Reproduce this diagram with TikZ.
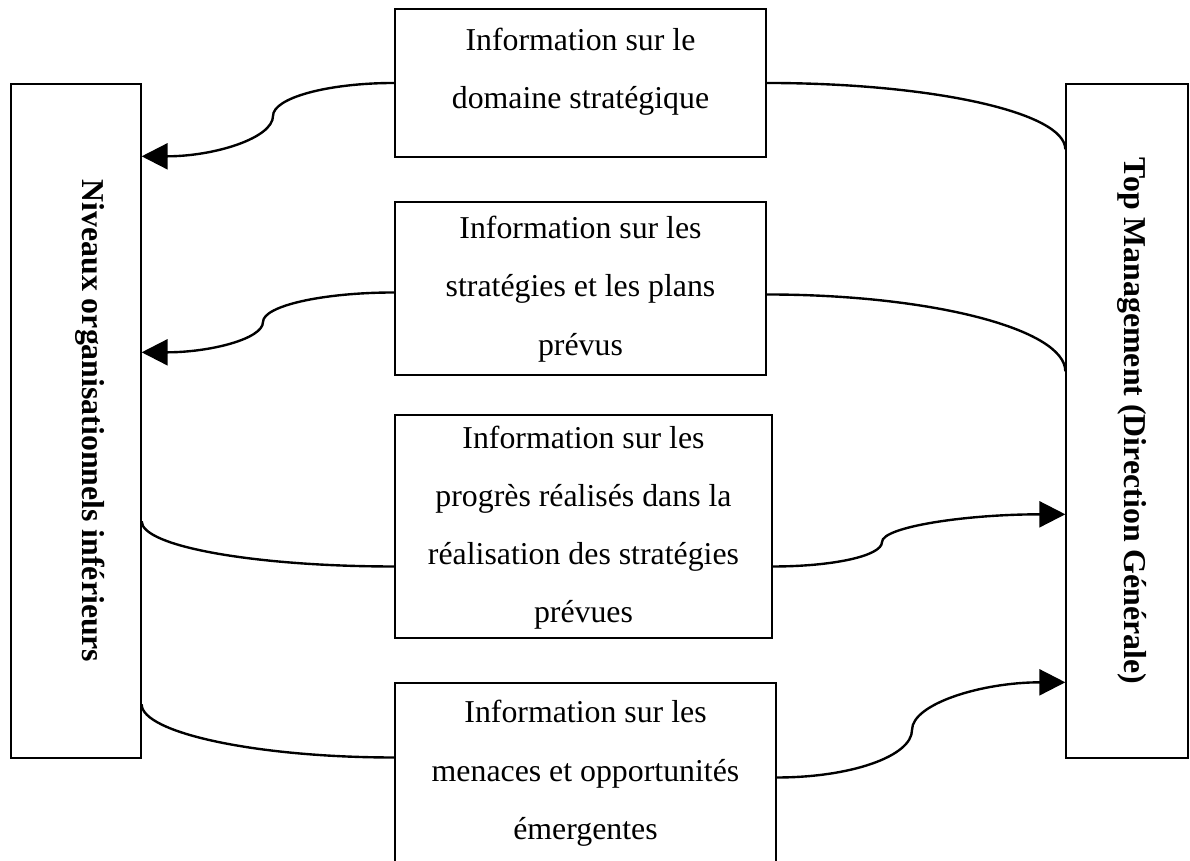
\documentclass[tikz,border=0pt]{standalone}
\usepackage{fontspec}
\setmainfont{Liberation Serif}
\usepackage{graphicx}
\usepackage{tikz}
\usetikzlibrary{calc}
\usetikzlibrary{arrows.meta}

\tikzset{
  infobox/.style={draw, line width=0.5pt, align=center, inner xsep=0pt, inner ysep=0pt,
    font=\fontsize{12}{21.9}\selectfont},
  levelbox/.style={draw, line width=0.5pt, inner sep=0pt,
    font=\fontsize{12}{14}\selectfont\bfseries},
  flow/.style={line width=0.9pt},
  flowarrow/.style={flow, -{Triangle[length=9.8pt,width=9.8pt]}}
}

\begin{document}
\begin{tikzpicture}[x=0.377pt,y=0.377pt]
\useasboundingbox (0,0) rectangle (1190,861);
\clip (0,0) rectangle (1190,861);

% the two levels
\node[levelbox, minimum width=49pt, minimum height=254.1pt] (lower) at (76,440)
  {\hspace*{11pt}\rotatebox{-90}{Niveaux organisationnels inférieurs}};
\node[levelbox, minimum width=46pt, minimum height=254.1pt] (top) at (1127,440)
  {\hspace*{3.8pt}\rotatebox{-90}{Top Management (Direction Générale)}};

% information boxes
\node[infobox, minimum width=139.9pt, text height=37.4pt, text depth=18.4pt] (b1) at (580.5,778)
  {Information sur le\\domaine stratégique};
\node[infobox, minimum width=139.9pt, text height=57.7pt, text depth=7.5pt] (b2) at (580.5,572.5)
  {Information sur les\\stratégies et les plans\\prévus};
\node[infobox, minimum width=142.1pt, text height=78.4pt, text depth=5.7pt] (b3) at (583.5,334.5)
  {Information sur les\\progrès réalisés dans la\\réalisation des stratégies\\prévues};
\node[infobox, minimum width=143.6pt, text height=58.9pt, text depth=19.2pt] (b4) at (585.5,74.5)
  {Information sur les\\menaces et opportunités\\émergentes};

\coordinate (k1) at (273,745);
\coordinate (k2) at (263,539);
\coordinate (k3) at (882,319);
\coordinate (k4) at (912,131);

% top down
\draw[flowarrow] (b1.west) .. controls +(-67,0) and +(0,18) .. (k1)
  .. controls +(0,-22) and +(73,0) .. ($(lower.north east)+(0,-73)$);
\draw[flow] (b1.east) .. controls +(165,0) and +(0,37) .. ($(top.north west)+(0,-66)$);
\draw[flowarrow] ($(b2.west)+(0,-4)$) .. controls +(-72,0) and +(0,16) .. (k2)
  .. controls +(0,-17) and +(68,0) .. ($(lower.north east)+(0,-269)$);
\draw[flow] ($(b2.east)+(0,-6)$) .. controls +(165,0) and +(0,42) .. ($(top.north west)+(0,-288)$);

% bottom up
\draw[flow] ($(lower.north east)+(0,-438)$) .. controls +(0,-25) and +(-140,0) .. ($(b3.west)+(0,-40)$);
\draw[flowarrow] ($(b3.east)+(0,-40)$) .. controls +(60,0) and +(0,-14) .. (k3)
  .. controls +(0,15) and +(-100,0) .. ($(top.north west)+(0,-431)$);
\draw[flow] ($(lower.north east)+(0,-621)$) .. controls +(0,-28) and +(-140,0) .. ($(b4.west)+(0,29)$);
\draw[flowarrow] ($(b4.east)+(0,9)$) .. controls +(75,0) and +(0,-26) .. (k4)
  .. controls +(0,26) and +(-84,0) .. ($(top.north west)+(0,-599)$);

\end{tikzpicture}
\end{document}
